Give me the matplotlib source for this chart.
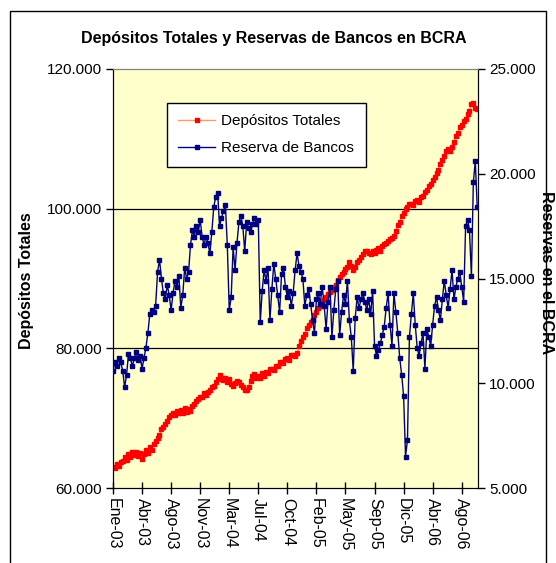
import matplotlib
matplotlib.use("Agg")
import matplotlib.pyplot as plt
from matplotlib.ticker import FuncFormatter, FixedLocator
from matplotlib.patches import Rectangle
import numpy as np

plt.rcParams['font.family'] = ['Liberation Sans', 'DejaVu Sans']

title = "Depósitos Totales y Reservas de Bancos en BCRA"
tick_labels = ["Ene-03", "Abr-03", "Ago-03", "Nov-03", "Mar-04", "Jul-04", "Oct-04",
               "Feb-05", "May-05", "Sep-05", "Dic-05", "Abr-06", "Ago-06"]
tick_step = 15  # observations between labelled ticks

depositos = [
    63000, 62800, 63400, 63100, 63700, 63900, 64400, 64000, 64800, 64400,
    65100, 64700, 65200, 64600, 65000, 64200, 64900, 65400, 65000, 65800,
    65500, 66300, 66700, 67200, 67600, 68400, 68700, 69200, 69600, 70200,
    70500, 70800, 70500, 71000, 70700, 71100, 70800, 71400, 70900, 71300,
    71000, 71700, 72000, 72400, 72800, 73100, 73000, 73600, 73300, 73800,
    74000, 74400, 74600, 75200, 75600, 76200, 75700, 75500, 75800, 75200,
    75600, 74900, 74600, 75100, 75300, 75200, 74800, 74500, 74100, 74000,
    74500, 75300, 76000, 76300, 75800, 76100, 75700, 76400, 76000, 76600,
    76500, 77000, 77100, 76900, 77500, 77500, 78000, 78100, 77900, 78500,
    78600, 78400, 79000, 79100, 78900, 79300, 80300, 81000, 81600, 82000,
    82900, 83400, 83800, 84000, 84800, 85200, 85800, 86000, 86600, 86900,
    87300, 87800, 88100, 88400, 88800, 89100, 89800, 90200, 90600, 90900,
    91400, 91700, 92300, 91800, 91200, 91700, 92300, 92700, 93100, 93500,
    93900, 94000, 93600, 93500, 94000, 93600, 94100, 94300, 94000, 94700,
    94900, 95100, 95300, 95700, 95800, 96100, 96800, 97700, 98100, 98900,
    99400, 100000, 100200, 100600, 100700, 100500, 101100, 101200, 101000, 101600,
    101800, 102400, 102700, 103200, 103600, 104100, 104500, 105100, 105600, 106400,
    106900, 107600, 108200, 108600, 108200, 108900, 109600, 110400, 110800, 111700,
    112000, 112500, 112800, 113600, 114000, 115000, 115100, 114400, 114300,
]

reservas = [
    10600, 11000, 10800, 11200, 11000, 10600, 9800, 10400, 11400, 11200,
    10800, 11200, 11500, 11100, 11300, 10700, 11200, 11700, 12400, 13300,
    13500, 13400, 13700, 15300, 15900, 15000, 14300, 14000, 14700, 14200,
    13500, 14300, 14900, 14600, 15100, 13600, 14200, 15500, 15000, 15300,
    16600, 17300, 17000, 17500, 17200, 17800, 17000, 16600, 17000, 16700,
    16200, 17200, 18400, 18900, 19100, 17500, 17900, 18200, 18500, 16600,
    13500, 14100, 16500, 15400, 16700, 17700, 18000, 17500, 16300, 17700,
    17400, 17200, 17600, 17900, 17600, 17800, 12900, 14400, 15400, 14900,
    15500, 13000, 14500, 15700, 15000, 14200, 13400, 15200, 15500, 14600,
    14100, 14400, 13700, 14300, 15400, 16200, 15600, 15300, 15000, 13700,
    14200, 14500, 13800, 13000, 12400, 14000, 14300, 13800, 14600, 13700,
    12600, 13900, 14600, 12200, 13500, 14500, 14900, 12300, 13400, 14200,
    13800, 14900, 13000, 12200, 10600, 13100, 14100, 13600, 14000, 14300,
    13900, 13500, 14000, 13300, 14400, 11800, 11300, 11600, 11900, 12300,
    12700, 13600, 14300, 12800, 11800, 14300, 13400, 12400, 11200, 10400,
    9400, 6500, 7300, 12200, 13300, 14300, 12800, 11700, 11300, 11900,
    12400, 10700, 12600, 12200, 11800, 12800, 13700, 14100, 13500, 13000,
    14000, 14900, 14200, 13600, 14500, 15400, 14000, 14600, 15000, 15300,
    14600, 13900, 17500, 17800, 17300, 15100, 19600, 20600, 18400,
]

W, H = 556, 563
fig = plt.figure(figsize=(W / 100, H / 100), dpi=100)
fig.patch.set_facecolor("white")

# outer chart border
fig.patches.append(Rectangle((10 / W, -0.05), 536 / W, 1 - 11 / H + 0.05,
                             transform=fig.transFigure, fill=False,
                             edgecolor="black", linewidth=1.0))

left, right, top, bottom = 113, 478, 69, 488
ax = fig.add_axes([left / W, 1 - bottom / H, (right - left) / W, (bottom - top) / H])
ax.set_facecolor("#FFFFCC")
ax2 = ax.twinx()

x = np.arange(len(depositos))
l1, = ax.plot(x, depositos, color="#FF9966", linewidth=1.0, marker="s",
              markersize=3.0, markerfacecolor="#FF0000", markeredgecolor="#FF0000",
              label="Depósitos Totales", zorder=3)
l2, = ax2.plot(x, reservas, color="#000080", linewidth=1.0, marker="s",
               markersize=2.4, markerfacecolor="#000080", markeredgecolor="#000080",
               label="Reserva de Bancos", zorder=3)

ax.set_xlim(0, 188.4)
ax.set_ylim(60000, 120000)
ax2.set_ylim(5000, 25000)

fmt = FuncFormatter(lambda v, p: f"{v:,.0f}".replace(",", "."))
ax.yaxis.set_major_locator(FixedLocator([60000, 80000, 100000, 120000]))
ax2.yaxis.set_major_locator(FixedLocator([5000, 10000, 15000, 20000, 25000]))
ax.yaxis.set_major_formatter(fmt)
ax2.yaxis.set_major_formatter(fmt)

ticks = [i * tick_step for i in range(len(tick_labels))]
ax.set_xticks(ticks)
ax.set_xticklabels(tick_labels, rotation=-90, fontsize=11.5)
ax.tick_params(axis="x", direction="inout", length=8, width=1, pad=3)
ax.tick_params(axis="y", direction="out", length=5, width=1, labelsize=11, pad=3)
ax2.tick_params(axis="y", direction="out", length=5, width=1, labelsize=11, pad=3)

for yv in (80000, 100000):
    ax.axhline(yv, color="black", linewidth=0.9, zorder=1)

for a in (ax, ax2):
    a.spines["top"].set_color("#808080")
    a.spines["left"].set_color("black")
    a.spines["right"].set_color("black")
    a.spines["bottom"].set_color("black")

fig.text(274 / W, 1 - 39 / H, title, ha="center", va="center",
         fontsize=11.5, fontweight="bold")
fig.text(27 / W, 1 - 281 / H, "Depósitos Totales", rotation=90, ha="center",
         va="center", fontsize=11.5, fontweight="bold")
fig.text(547 / W, 1 - 273 / H, "Reservas en el BCRA", rotation=-90, ha="center",
         va="center", fontsize=11.5, fontweight="bold")

leg = ax2.legend(handles=[l1, l2], loc="upper left",
                 bbox_to_anchor=(167 / W, 1 - 103 / H),
                 bbox_transform=fig.transFigure, fontsize=11, frameon=True,
                 fancybox=False, edgecolor="black", framealpha=1,
                 borderaxespad=0, handlelength=2.4, handletextpad=0.4,
                 borderpad=0.75, labelspacing=0.85, shadow=False)
leg.get_frame().set_linewidth(1.0)
for h in leg.legend_handles:
    h.set_markersize(2.5)

fig.savefig("out.png", dpi=100)
